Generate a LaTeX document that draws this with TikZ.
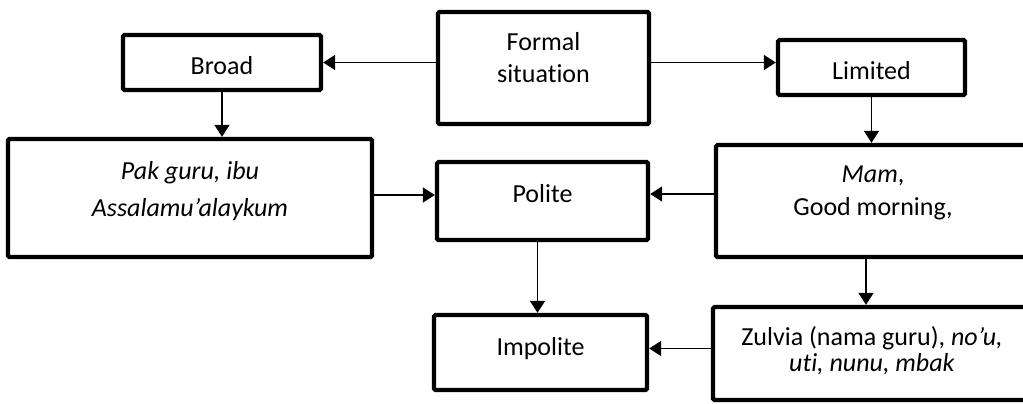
\documentclass[tikz,border=0pt]{standalone}
\usepackage{fontspec}
\setmainfont{Carlito}[Ligatures=NoCommon]
\usetikzlibrary{arrows.meta}

\begin{document}
\begin{tikzpicture}[x=0.5pt, y=-0.5pt,
    box/.style={draw, line width=2.2pt, rounded corners=0.8pt, inner sep=0pt, align=center,
                font=\fontsize{13}{16}\selectfont},
    arr/.style={line width=0.9pt, -{Triangle[length=6pt, width=7.5pt]}}]
                    \useasboundingbox (0,0) rectangle (1023,403);
                    % top row
                    \node [box, minimum width=105.5pt, minimum height=56pt, text depth=10.5pt] (fs) at (543.5,68) {Formal\\situation};
                    \node [box, minimum width=99pt, minimum height=27.5pt, text height=12pt, text depth=0pt] (broad) at (222,62.5) {Broad};
                    \node [box, minimum width=93.5pt, minimum height=27.5pt, text height=11.5pt, text depth=0pt] (lim) at (871.5,67.5) {Limited};
                    % middle row
                    \node [box, minimum width=182pt, minimum height=59pt, text depth=9pt,
                           font=\fontsize{13}{18.5}\selectfont] (pak) at (190,198) {\textit{Pak guru, ibu}\\\textit{Assalamu’alaykum}};
                    \node [box, minimum width=105.5pt, minimum height=39pt, text depth=7.6pt] (pol) at (542.5,201) {Polite};
                    \node [box, minimum width=157pt, minimum height=56pt, text depth=10.5pt,
                           font=\fontsize{13}{16.3}\selectfont] (mam) at (873,201) {\textit{Mam},\\Good morning,};
                    % bottom row
                    \node [box, minimum width=106.5pt, minimum height=37.5pt, text depth=6.1pt] (imp) at (540.5,352.5) {Impolite};
                    \node [box, minimum width=159pt, minimum height=46.5pt, text depth=4.5pt,
                           font=\fontsize{13}{13.3}\selectfont] (zul) at (872,353.5) {Zulvia (nama guru), \textit{no’u,}\\\textit{uti, nunu, mbak}};
                    % arrows
                    \draw [arr] (fs.west |- broad.east) -- (broad.east);
                    \draw [arr] (fs.east |- broad.east) -- (lim.west |- broad.east);
                    \draw [arr] (broad.south) -- (broad.south |- pak.north);
                    \draw [arr] (lim.south) -- (lim.south |- mam.north);
                    \draw [arr] ([yshift=1.5pt]pak.east) -- ([yshift=3pt]pol.west);
                    \draw [arr] ([yshift=3.5pt]mam.west) -- ([yshift=3.5pt]pol.east);
                    \draw [arr] ([xshift=-2.5pt]pol.south) -- ([xshift=-1.5pt]imp.north);
                    \draw [arr] ([xshift=-3.5pt]mam.south) -- ([xshift=-3pt]zul.north);
                    \draw [arr] ([yshift=2.5pt]zul.west) -- ([yshift=2pt]imp.east);
                \end{tikzpicture}
\end{document}
